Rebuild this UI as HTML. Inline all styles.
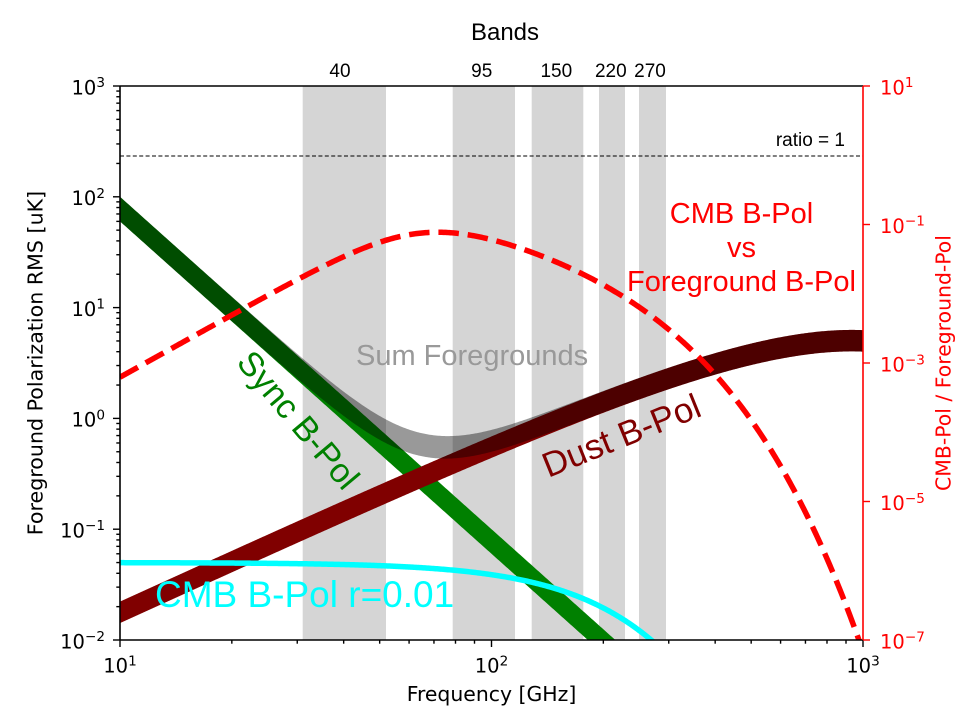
<!DOCTYPE html>
<html>
<head>
<meta charset="utf-8">
<style>
  html,body{margin:0;padding:0;background:#fff;width:961px;height:721px;overflow:hidden;}
  svg{display:block;position:absolute;left:0;top:0;}
  .dj{font-family:"DejaVu Sans","Liberation Sans",sans-serif;}
  .ls{font-family:"Liberation Sans","DejaVu Sans",sans-serif;}
</style>
</head>
<body>
<svg id="chart" xmlns="http://www.w3.org/2000/svg" width="961" height="721" viewBox="0 0 961 721">
  <defs>
    <clipPath id="clip"><rect x="120" y="86" width="743" height="554"/></clipPath>
  </defs>
  <rect x="0" y="0" width="961" height="721" fill="#ffffff"/>

  <!-- frequency bands -->
  <g fill="#d5d5d5">
    <rect x="302.7" y="86" width="83.3" height="554"/>
    <rect x="452.7" y="86" width="62.3" height="554"/>
    <rect x="531.7" y="86" width="51.6" height="554"/>
    <rect x="599" y="86" width="26" height="554"/>
    <rect x="639" y="86" width="27" height="554"/>
  </g>

  <g clip-path="url(#clip)">
    <path id="sync" fill="#008000" d=""/>
    <path id="dust" fill="#800000" d=""/>
    <path id="sum" fill="#000000" fill-opacity="0.4" d=""/>
    <path id="cmb" fill="none" stroke="#00ffff" stroke-width="5.5" d=""/>
    <line x1="120" y1="156" x2="863" y2="156" stroke="#000" stroke-width="1" stroke-dasharray="4 2.4"/>
    <path id="ratio" fill="none" stroke="#ff0000" stroke-width="5.5" stroke-dasharray="20.5 8.9" d=""/>
  </g>

  <!-- annotations -->
  <text class="ls" x="845" y="146" font-size="19" text-anchor="end" fill="#000">ratio = 1</text>
  <g class="ls" font-size="29" fill="#ff0000" text-anchor="middle">
    <text x="741.5" y="223">CMB B-Pol</text>
    <text x="741.5" y="257">vs</text>
    <text x="741.5" y="291">Foreground B-Pol</text>
  </g>
  <text class="ls" x="356" y="365" font-size="29" fill="#999999">Sum Foregrounds</text>
  <text class="ls" font-size="34" fill="#008000" text-anchor="middle" dy="0.25em" transform="translate(296,422) rotate(50)">Sync B-Pol</text>
  <text class="ls" font-size="35" fill="#800000" text-anchor="middle" dy="0.25em" transform="translate(622.5,438.5) rotate(-22)">Dust B-Pol</text>
  <text class="ls" x="155" y="607" font-size="37" fill="#00ffff">CMB B-Pol r=0.01</text>

  <!-- top band labels -->
  <text class="ls" x="505" y="40" font-size="24" text-anchor="middle" fill="#000">Bands</text>
  <g class="ls" font-size="19" fill="#000" text-anchor="middle">
    <text x="340" y="77">40</text>
    <text x="481.7" y="77">95</text>
    <text x="556.3" y="77">150</text>
    <text x="610.8" y="77">220</text>
    <text x="650" y="77">270</text>
  </g>

  <!-- spines -->
  <line x1="120" y1="86" x2="863" y2="86" stroke="#000" stroke-width="1.6"/>
  <line x1="120" y1="640" x2="863" y2="640" stroke="#000" stroke-width="1.6"/>
  <line x1="120" y1="86" x2="120" y2="640" stroke="#000" stroke-width="1.6"/>
  <line x1="863" y1="86" x2="863" y2="640" stroke="#ff0000" stroke-width="1.6"/>

  <g id="ticks"></g>

  <!-- left tick labels -->
  <g class="dj" font-size="19.5" fill="#000" text-anchor="end">
    <text x="105" y="94.3">10<tspan dy="-7.3" font-size="13.6">3</tspan></text>
    <text x="105" y="205.1">10<tspan dy="-7.3" font-size="13.6">2</tspan></text>
    <text x="105" y="315.9">10<tspan dy="-7.3" font-size="13.6">1</tspan></text>
    <text x="105" y="426.7">10<tspan dy="-7.3" font-size="13.6">0</tspan></text>
    <text x="105" y="537.5">10<tspan dy="-7.3" font-size="13.6">−1</tspan></text>
    <text x="105" y="648.3">10<tspan dy="-7.3" font-size="13.6">−2</tspan></text>
  </g>
  <!-- right tick labels -->
  <g class="dj" font-size="19.5" fill="#ff0000" text-anchor="start">
    <text x="880" y="94.5">10<tspan dy="-7.3" font-size="13.6">1</tspan></text>
    <text x="880" y="233">10<tspan dy="-7.3" font-size="13.6">−1</tspan></text>
    <text x="880" y="371.7">10<tspan dy="-7.3" font-size="13.6">−3</tspan></text>
    <text x="880" y="510.2">10<tspan dy="-7.3" font-size="13.6">−5</tspan></text>
    <text x="880" y="648.7">10<tspan dy="-7.3" font-size="13.6">−7</tspan></text>
  </g>
  <!-- bottom tick labels -->
  <g class="dj" font-size="19.5" fill="#000" text-anchor="middle">
    <text x="120" y="672.7">10<tspan dy="-7.3" font-size="13.6">1</tspan></text>
    <text x="491.5" y="672.7">10<tspan dy="-7.3" font-size="13.6">2</tspan></text>
    <text x="863" y="672.7">10<tspan dy="-7.3" font-size="13.6">3</tspan></text>
  </g>

  <!-- axis labels -->
  <text class="dj" x="491.5" y="701" font-size="20.4" text-anchor="middle" fill="#000">Frequency [GHz]</text>
  <text class="dj" font-size="20.6" text-anchor="middle" fill="#000" transform="translate(42.5,363) rotate(-90)">Foreground Polarization RMS [uK]</text>
  <text class="dj" font-size="20.4" text-anchor="middle" fill="#ff0000" transform="translate(950.5,363) rotate(-90)">CMB-Pol / Foreground-Pol</text>
</svg>

<script>
(function(){
  var X0=120,X1=863,Y0=86,Y1=640;
  function lg(v){return Math.log(v)/Math.LN10;}
  function fx(f){return X0+(lg(f)-1)*(X1-X0)/2;}
  function fy(v){return Y1-(lg(v)+2)*(Y1-Y0)/5;}
  function fr(r){return Y1-(lg(r)+7)*(Y1-Y0)/8;}
  var N=600,F=[];
  for(var i=0;i<=N;i++)F.push(Math.pow(10,1+2*i/N));
  function syncHi(f){return 100*Math.pow(f/10,-3);}
  function syncLo(f){return 60*Math.pow(f/10,-3);}
  function g(f){var x=0.047992*f/19.6;return x/(Math.exp(x)-1);}
  var g10=g(10);
  function dust(A,f){return A*Math.pow(f/10,1.54)*g(f)/g10;}
  function dustHi(f){return dust(0.0222,f);}
  function dustLo(f){return dust(0.0142,f);}
  function cmb(f){var x=f/56.78,e=Math.exp(x);return 0.05*x*x*e/((e-1)*(e-1));}
  function sumHi(f){return syncHi(f)+dustHi(f);}
  function sumLo(f){return syncLo(f)+dustLo(f);}
  function cl(y){return Math.max(80,Math.min(655,y));}
  function band(hi,lo){
    var d='';
    for(var i=0;i<F.length;i++){d+=(i?'L':'M')+fx(F[i]).toFixed(2)+','+cl(fy(hi(F[i]))).toFixed(2);}
    for(var j=F.length-1;j>=0;j--){d+='L'+fx(F[j]).toFixed(2)+','+cl(fy(lo(F[j]))).toFixed(2);}
    return d+'Z';
  }
  function line(fn,map){
    var d='';
    for(var i=0;i<F.length;i++){d+=(i?'L':'M')+fx(F[i]).toFixed(2)+','+cl(map(fn(F[i]))).toFixed(2);}
    return d;
  }
  document.getElementById('sync').setAttribute('d',band(syncHi,syncLo));
  document.getElementById('dust').setAttribute('d',band(dustHi,dustLo));
  document.getElementById('sum').setAttribute('d',band(sumHi,sumLo));
  document.getElementById('cmb').setAttribute('d',line(cmb,fy));
  document.getElementById('ratio').setAttribute('d',line(function(f){
    var s=(syncHi(f)+syncLo(f))/2+(dustHi(f)+dustLo(f))/2;return cmb(f)/s;},fr));

  var NS='http://www.w3.org/2000/svg',tg=document.getElementById('ticks');
  function ln(x1,y1,x2,y2,c){var l=document.createElementNS(NS,'line');
    l.setAttribute('x1',x1);l.setAttribute('y1',y1);l.setAttribute('x2',x2);l.setAttribute('y2',y2);
    l.setAttribute('stroke',c);l.setAttribute('stroke-width','1.4');tg.appendChild(l);}
  for(var d=-2;d<=3;d++){
    var y=fy(Math.pow(10,d));ln(113,y,120,y,'#000');
    if(d<3)for(var k=2;k<=9;k++){var yy=fy(k*Math.pow(10,d));ln(116.3,yy,120,yy,'#000');}
  }
  for(var e=1;e<=3;e++){
    var x=fx(Math.pow(10,e));ln(x,640,x,647,'#000');
    if(e<3)for(var k2=2;k2<=9;k2++){var xx=fx(k2*Math.pow(10,e));ln(xx,640,xx,643.7,'#000');}
  }
  [1,-1,-3,-5,-7].forEach(function(p){var y=fr(Math.pow(10,p));ln(863,y,870,y,'#ff0000');});
})();
</script>
</body>
</html>
